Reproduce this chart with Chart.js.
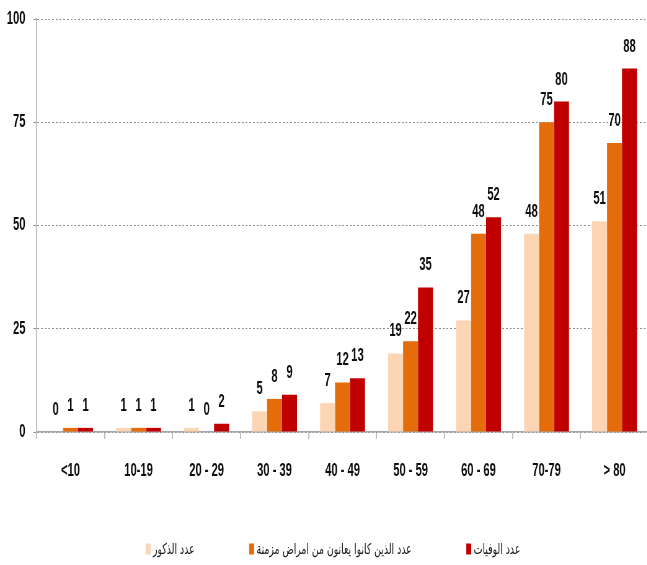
<!DOCTYPE html>
<html><head><meta charset="utf-8">
<script src="https://cdn.jsdelivr.net/npm/chart.js@4.4.1/dist/chart.umd.min.js"></script>
<style>
html,body{margin:0;padding:0;background:#fff;overflow:hidden;width:647px;height:565px;}
#wrap{width:1064px;height:565px;transform:scaleX(0.62);transform-origin:0 0;}
canvas{display:block;}
</style></head><body>
<div id="wrap"><canvas id="c" width="1064" height="565"></canvas></div>
<script>
// ---- data ----
const categories = ['<10', '10-19', '20 - 29', '30 - 39', '40 - 49', '50 - 59', '60 - 69', '70-79', '> 80'];
const males   = [0, 1, 1, 5, 7, 19, 27, 48, 51];
const chronic = [1, 1, 0, 8, 12, 22, 48, 75, 70];
const deaths  = [1, 1, 2, 9, 13, 35, 52, 80, 88];
const seriesNames = ['عدد الذكور', 'عدد الذين كانوا يعانون من امراض مزمنة', 'عدد الوفيات'];
const yTicks = [0, 25, 50, 75, 100];

// ---- styles ----
const colors = ['#FCD5B5', '#E46C0A', '#C00000'];
const NUM_FONT = {family: "'Liberation Sans', Arial, sans-serif", size: 18, weight: 'bold'};
const LEGEND_FONT = "15px 'DejaVu Sans', sans-serif";
const LEGEND_CX = 537;
const LEGEND_Y = 549;

const labelPlugin = {
  id: 'barLabels',
  afterDatasetsDraw(chart) {
    const ctx = chart.ctx;
    ctx.save();
    ctx.font = `${NUM_FONT.weight} ${NUM_FONT.size}px ${NUM_FONT.family}`;
    ctx.fillStyle = '#0d0d0d';
    ctx.textAlign = 'center';
    ctx.textBaseline = 'middle';
    chart.data.datasets.forEach((ds, di) => {
      const meta = chart.getDatasetMeta(di);
      meta.data.forEach((bar, i) => {
        ctx.fillText(String(ds.data[i]), bar.x, bar.y - 22);
      });
    });
    ctx.restore();
  }
};

const legendPlugin = {
  id: 'customLegend',
  afterDraw(chart) {
    const ctx = chart.ctx;
    ctx.save();
    ctx.font = LEGEND_FONT;
    ctx.textBaseline = 'middle';
    ctx.textAlign = 'left';
    const boxW = 8, boxH = 11, gapBT = 4, gapItems = 88;
    const items = chart.data.datasets.map(ds => ({text: ds.label, color: ds.backgroundColor, w: ctx.measureText(ds.label).width}));
    const total = items.reduce((s, it) => s + boxW + gapBT + it.w, 0) + gapItems * (items.length - 1);
    let x = LEGEND_CX - total / 2;
    items.forEach(it => {
      ctx.fillStyle = it.color;
      ctx.fillRect(x, LEGEND_Y - boxH / 2, boxW, boxH);
      x += boxW + gapBT;
      ctx.fillStyle = '#1a1a1a';
      ctx.fillText(it.text, x, LEGEND_Y + 1);
      x += it.w + gapItems;
    });
    ctx.restore();
  }
};

new Chart(document.getElementById('c'), {
  type: 'bar',
  data: {
    labels: categories,
    datasets: [
      {label: seriesNames[0], data: males,   backgroundColor: colors[0]},
      {label: seriesNames[1], data: chronic, backgroundColor: colors[1]},
      {label: seriesNames[2], data: deaths,  backgroundColor: colors[2]}
    ]
  },
  options: {
    responsive: false,
    animation: false,
    devicePixelRatio: 1,
    layout: {padding: {left: 0, right: 18, top: 19, bottom: 83}},
    datasets: {bar: {categoryPercentage: 0.66, barPercentage: 1.0, borderWidth: 0}},
    plugins: {legend: {display: false}, tooltip: {enabled: false}},
    scales: {
      x: {
        grid: {display: true, drawOnChartArea: false, drawTicks: true, tickLength: 7, color: '#BFBFBF', lineWidth: 2, offset: true},
        border: {display: true, color: '#A6A6A6', width: 1.5},
        ticks: {font: NUM_FONT, color: '#0d0d0d', padding: 21, maxRotation: 0, autoSkip: false},
        afterFit(scale) { scale.height = 50; }
      },
      y: {
        min: yTicks[0], max: yTicks[yTicks.length - 1],
        grid: {color: '#8C8C8C', lineWidth: 1, tickLength: 5, drawTicks: true},
        border: {display: true, color: '#BFBFBF', width: 2, dash: [3, 3]},
        ticks: {stepSize: 25, font: NUM_FONT, color: '#0d0d0d', padding: 13},
        afterFit(scale) { scale.width = 59; scale.paddingTop = 0; scale.paddingBottom = 0; }
      }
    }
  },
  plugins: [labelPlugin, legendPlugin]
});
</script>
</body></html>
